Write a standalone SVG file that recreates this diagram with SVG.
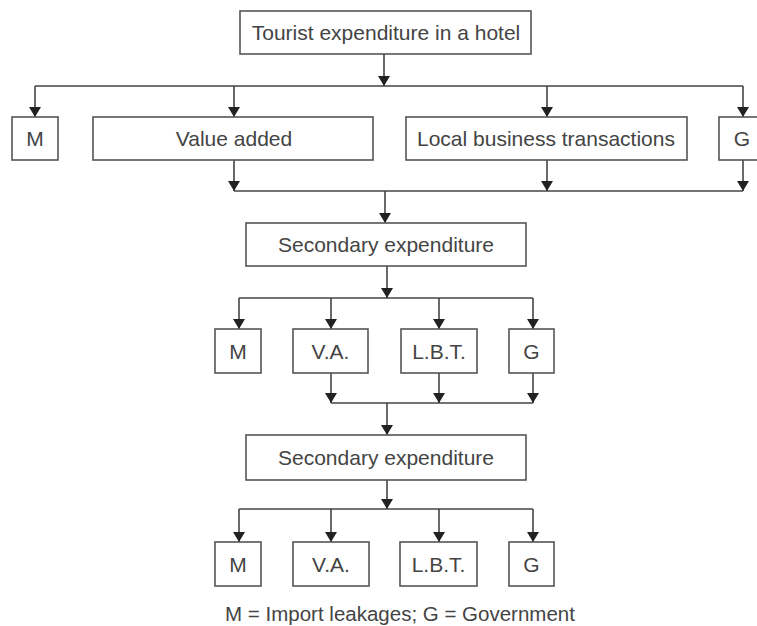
<svg xmlns="http://www.w3.org/2000/svg" width="757" height="626" viewBox="0 0 757 626">
<style>
.box{fill:#fff;stroke:#555;stroke-width:1.6}
.t{font-family:"Liberation Sans",Arial,sans-serif;font-size:21px;fill:#444;text-anchor:middle}
.c{fill:none;stroke:#444;stroke-width:1.6}
</style>
<defs>
<marker id="ah" markerUnits="userSpaceOnUse" markerWidth="11" markerHeight="12" refX="10" refY="6" orient="auto" viewBox="0 0 11 12">
<path d="M0,0 L10,6 L0,12 Z" fill="#222"/>
</marker>
</defs>
<rect width="757" height="626" fill="#fff"/>
<g id="connectors">
<path class="c" d="M35,86 H743"/>
<path class="c" d="M234,191 H743"/>
<path class="c" d="M239,298 H533"/>
<path class="c" d="M331,403 H533"/>
<path class="c" d="M239,509 H533"/>
<path class="c" d="M384,54 V86" marker-end="url(#ah)"/>
<path class="c" d="M35,86 V117" marker-end="url(#ah)"/>
<path class="c" d="M234,86 V117" marker-end="url(#ah)"/>
<path class="c" d="M547,86 V117" marker-end="url(#ah)"/>
<path class="c" d="M743,86 V117" marker-end="url(#ah)"/>
<path class="c" d="M234,160 V191" marker-end="url(#ah)"/>
<path class="c" d="M547,160 V191" marker-end="url(#ah)"/>
<path class="c" d="M743,160 V191" marker-end="url(#ah)"/>
<path class="c" d="M385,191 V223" marker-end="url(#ah)"/>
<path class="c" d="M387,266 V298" marker-end="url(#ah)"/>
<path class="c" d="M239,298 V329" marker-end="url(#ah)"/>
<path class="c" d="M331,298 V329" marker-end="url(#ah)"/>
<path class="c" d="M439,298 V329" marker-end="url(#ah)"/>
<path class="c" d="M533,298 V329" marker-end="url(#ah)"/>
<path class="c" d="M331,373 V403" marker-end="url(#ah)"/>
<path class="c" d="M439,373 V403" marker-end="url(#ah)"/>
<path class="c" d="M533,373 V403" marker-end="url(#ah)"/>
<path class="c" d="M387,403 V435" marker-end="url(#ah)"/>
<path class="c" d="M387,480 V509" marker-end="url(#ah)"/>
<path class="c" d="M239,509 V542" marker-end="url(#ah)"/>
<path class="c" d="M331,509 V542" marker-end="url(#ah)"/>
<path class="c" d="M439,509 V542" marker-end="url(#ah)"/>
<path class="c" d="M533,509 V542" marker-end="url(#ah)"/>
</g>
<g id="top"><rect class="box" x="240" y="11" width="291" height="43"/><text class="t" x="386" y="40">Tourist expenditure in a hotel</text></g>
<g id="m1"><rect class="box" x="12" y="117" width="46" height="43"/><text class="t" x="35" y="146">M</text></g>
<g id="va1"><rect class="box" x="93" y="117" width="280" height="43"/><text class="t" x="234" y="146">Value added</text></g>
<g id="lbt1"><rect class="box" x="406" y="117" width="281" height="43"/><text class="t" x="546" y="146">Local business transactions</text></g>
<g id="g1"><rect class="box" x="719" y="117" width="46" height="43"/><text class="t" x="742" y="146">G</text></g>
<g id="sec1"><rect class="box" x="246" y="223" width="280" height="43"/><text class="t" x="386" y="252">Secondary expenditure</text></g>
<g id="m2"><rect class="box" x="215" y="329" width="46" height="44"/><text class="t" x="238" y="358.5">M</text></g>
<g id="va2"><rect class="box" x="293" y="329" width="75" height="44"/><text class="t" x="330.5" y="358.5">V.A.</text></g>
<g id="lbt2"><rect class="box" x="401" y="329" width="76" height="44"/><text class="t" x="439" y="358.5">L.B.T.</text></g>
<g id="g2"><rect class="box" x="509" y="329" width="45" height="44"/><text class="t" x="531.5" y="358.5">G</text></g>
<g id="sec2"><rect class="box" x="246" y="435" width="280" height="45"/><text class="t" x="386" y="465">Secondary expenditure</text></g>
<g id="m3"><rect class="box" x="215" y="542" width="46" height="44"/><text class="t" x="238" y="571.5">M</text></g>
<g id="va3"><rect class="box" x="293" y="542" width="76" height="44"/><text class="t" x="331" y="571.5">V.A.</text></g>
<g id="lbt3"><rect class="box" x="400" y="542" width="77" height="44"/><text class="t" x="438.5" y="571.5">L.B.T.</text></g>
<g id="g3"><rect class="box" x="509" y="542" width="45" height="44"/><text class="t" x="531.5" y="571.5">G</text></g>
<text class="t" x="400" y="621" style="font-size:20.5px">M = Import leakages; G = Government</text>
</svg>
